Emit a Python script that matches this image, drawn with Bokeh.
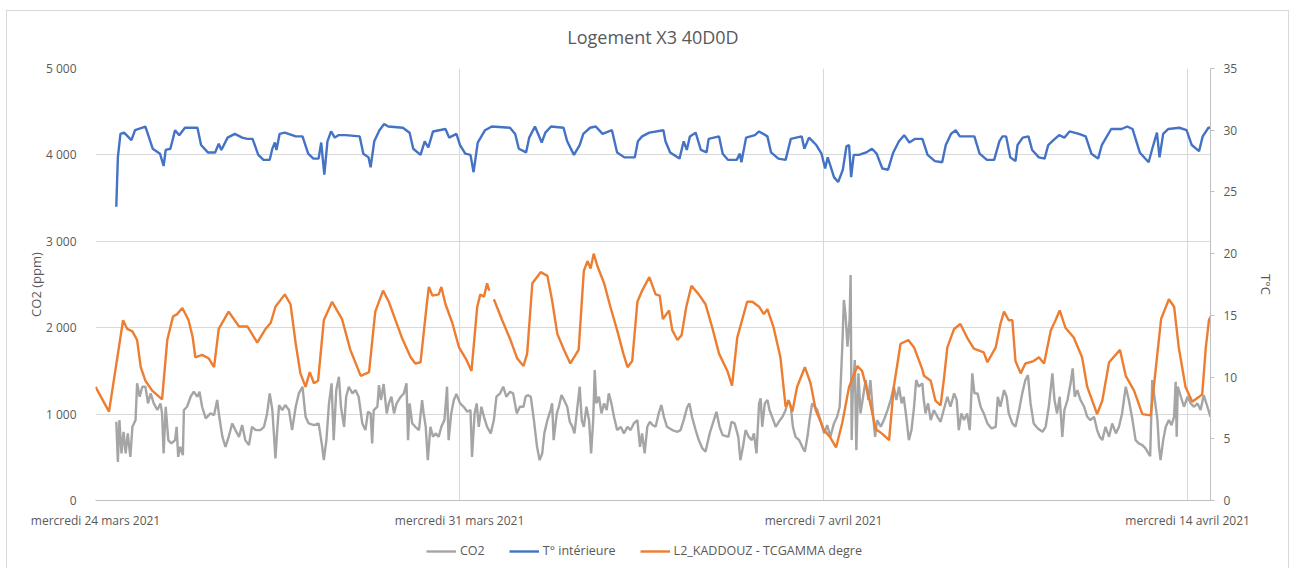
from bokeh.plotting import figure
from bokeh.models import Range1d, LinearAxis, Legend, LegendItem, FixedTicker
from bokeh.layouts import column
from bokeh.embed import file_html
from bokeh.resources import INLINE

# ---- data (days since mercredi 24 mars 2021 00:00) ----
co2_days = [0.40, 0.43, 0.46, 0.50, 0.54, 0.58, 0.62, 0.67, 0.71, 0.77, 0.80, 0.85, 0.90, 0.96, 1.01, 1.06, 1.12, 1.19, 1.25, 1.28,
            1.31, 1.35, 1.40, 1.46, 1.53, 1.56, 1.59, 1.63, 1.68, 1.70, 1.76, 1.83, 1.89, 1.96, 2.00, 2.05, 2.12, 2.21, 2.28, 2.34,
            2.38, 2.44, 2.50, 2.56, 2.63, 2.69, 2.76, 2.82, 2.88, 2.95, 3.01, 3.08, 3.17, 3.24, 3.30, 3.35, 3.40, 3.43, 3.46, 3.49,
            3.53, 3.59, 3.65, 3.72, 3.78, 3.85, 3.91, 3.98, 4.04, 4.10, 4.20, 4.29, 4.36, 4.39, 4.44, 4.49, 4.54, 4.58, 4.63, 4.68,
            4.72, 4.78, 4.82, 4.87, 4.94, 5.00, 5.06, 5.13, 5.19, 5.24, 5.29, 5.32, 5.35, 5.42, 5.45, 5.49, 5.54, 5.60, 5.64, 5.69,
            5.74, 5.79, 5.87, 5.93, 5.98, 6.01, 6.04, 6.09, 6.15, 6.22, 6.28, 6.31, 6.35, 6.39, 6.44, 6.49, 6.54, 6.60, 6.65, 6.71,
            6.76, 6.79, 6.84, 6.89, 6.94, 7.01, 7.08, 7.15, 7.21, 7.24, 7.29, 7.33, 7.37, 7.42, 7.47, 7.53, 7.60, 7.66, 7.71, 7.78,
            7.84, 7.90, 7.97, 8.03, 8.10, 8.16, 8.23, 8.27, 8.31, 8.37, 8.43, 8.49, 8.54, 8.59, 8.63, 8.69, 8.75, 8.78, 8.81, 8.87,
            8.91, 8.96, 9.01, 9.07, 9.12, 9.17, 9.21, 9.26, 9.31, 9.35, 9.39, 9.44, 9.49, 9.53, 9.57, 9.60, 9.63, 9.68, 9.73, 9.78,
            9.83, 9.87, 9.92, 9.97, 10.03, 10.10, 10.16, 10.23, 10.29, 10.35, 10.42, 10.47, 10.51, 10.56, 10.61, 10.66, 10.71, 10.77, 10.83, 10.88,
            10.93, 10.99, 11.09, 11.19, 11.25, 11.31, 11.38, 11.42, 11.47, 11.54, 11.60, 11.67, 11.73, 11.81, 11.89, 11.94, 12.00, 12.06, 12.17, 12.23,
            12.29, 12.36, 12.40, 12.45, 12.50, 12.56, 12.62, 12.66, 12.71, 12.76, 12.79, 12.82, 12.87, 12.92, 12.96, 13.01, 13.08, 13.14, 13.21, 13.27,
            13.32, 13.37, 13.41, 13.46, 13.53, 13.59, 13.64, 13.69, 13.73, 13.78, 13.83, 13.88, 13.94, 14.01, 14.07, 14.13, 14.20, 14.26, 14.31, 14.36,
            14.39, 14.42, 14.46, 14.50, 14.52, 14.54, 14.56, 14.60, 14.63, 14.67, 14.71, 14.76, 14.81, 14.86, 14.90, 14.95, 14.99, 15.03, 15.10, 15.16,
            15.23, 15.29, 15.35, 15.40, 15.45, 15.50, 15.54, 15.59, 15.64, 15.69, 15.74, 15.78, 15.83, 15.90, 15.92, 15.96, 16.01, 16.06, 16.12, 16.19,
            16.25, 16.31, 16.38, 16.44, 16.51, 16.56, 16.60, 16.65, 16.70, 16.76, 16.81, 16.86, 16.90, 16.96, 17.02, 17.08, 17.15, 17.23, 17.31, 17.35,
            17.40, 17.47, 17.52, 17.56, 17.63, 17.69, 17.76, 17.82, 17.88, 17.93, 17.98, 18.04, 18.12, 18.21, 18.27, 18.33, 18.40, 18.44, 18.49, 18.54,
            18.59, 18.63, 18.69, 18.75, 18.79, 18.83, 18.88, 18.94, 19.01, 19.07, 19.13, 19.20, 19.26, 19.31, 19.36, 19.42, 19.49, 19.55, 19.62, 19.68,
            19.74, 19.81, 19.87, 19.94, 20.00, 20.06, 20.13, 20.19, 20.28, 20.32, 20.37, 20.42, 20.45, 20.48, 20.53, 20.58, 20.64, 20.69, 20.74, 20.77,
            20.79, 20.81, 20.87, 20.93, 21.00, 21.06, 21.12, 21.19, 21.25, 21.31, 21.38, 21.44]
co2_ppm = [911, 447, 931, 545, 795, 545, 777, 505, 853, 931, 1356, 1201, 1317, 1317, 1124, 1240, 1124, 1047, 1124, 1008,
           545, 1085, 699, 661, 699, 853, 505, 621, 525, 1047, 1085, 1201, 1259, 1201, 1259, 1085, 950, 1008, 989, 1163,
           969, 737, 621, 737, 892, 815, 737, 873, 699, 641, 853, 815, 815, 853, 1008, 1240, 1047, 777, 487, 777,
           1105, 1047, 1105, 1047, 815, 1085, 1240, 1317, 969, 892, 873, 892, 621, 467, 699, 1124, 1356, 699, 1278, 1432,
           1085, 853, 1201, 1317, 1240, 1278, 1201, 892, 815, 1027, 1008, 661, 1047, 1085, 1336, 1163, 1348, 1008, 1124, 1201,
           1008, 1124, 1201, 1240, 1356, 699, 1124, 892, 853, 815, 1163, 1008, 853, 467, 853, 737, 777, 737, 853, 931,
           1317, 699, 1008, 1163, 1232, 1124, 1085, 1027, 1047, 505, 1008, 1124, 853, 1085, 969, 853, 777, 931, 1201, 1240,
           1317, 1201, 1259, 1240, 1008, 1085, 1085, 1201, 1220, 1201, 931, 621, 467, 545, 777, 931, 1047, 1124, 699, 1008,
           1085, 1220, 1163, 1085, 911, 853, 777, 1047, 1317, 931, 853, 1085, 931, 545, 931, 1510, 1124, 1201, 1008, 1124,
           1047, 1240, 1124, 969, 815, 853, 777, 853, 815, 892, 931, 621, 777, 545, 853, 911, 873, 853, 1008, 1105,
           969, 853, 815, 795, 815, 931, 1085, 1124, 969, 815, 699, 603, 564, 777, 931, 1027, 853, 757, 737, 911,
           892, 737, 467, 621, 815, 737, 699, 777, 545, 1124, 1182, 853, 1124, 1163, 1047, 969, 853, 911, 969, 1047,
           1163, 1085, 853, 737, 699, 621, 564, 737, 931, 1124, 1085, 1047, 931, 777, 873, 737, 892, 969, 1085, 1780,
           2321, 2167, 1780, 2090, 2611, 699, 1240, 1626, 583, 1472, 1008, 1201, 1394, 1163, 1394, 1008, 737, 931, 853, 931,
           1047, 1163, 1317, 1163, 1317, 1124, 1201, 969, 699, 815, 1085, 1394, 1317, 1356, 1201, 1008, 1124, 931, 1047, 969,
           911, 1047, 1201, 1085, 1240, 1163, 815, 1008, 931, 1008, 815, 1472, 1240, 1240, 1085, 1008, 892, 834, 853, 1201,
           1085, 1278, 1201, 1008, 892, 853, 1047, 1240, 1394, 1452, 1124, 892, 834, 795, 853, 1085, 1472, 1163, 1008, 1201,
           737, 1047, 1163, 1356, 1530, 1201, 1278, 1163, 1085, 969, 931, 969, 815, 737, 699, 853, 737, 892, 777, 853,
           1008, 1317, 1163, 931, 699, 661, 641, 603, 513, 1394, 1163, 931, 621, 467, 699, 853, 931, 873, 969, 1375,
           737, 1317, 1201, 1085, 1201, 1124, 1085, 1124, 1047, 1220, 1085, 969]

tint_days = [0.40, 0.43, 0.48, 0.55, 0.62, 0.69, 0.76, 0.96, 1.03, 1.10, 1.24, 1.31, 1.35, 1.44, 1.53, 1.61, 1.72, 1.96, 2.03, 2.16,
             2.30, 2.37, 2.42, 2.54, 2.68, 2.82, 2.92, 3.02, 3.13, 3.23, 3.35, 3.40, 3.45, 3.48, 3.54, 3.64, 3.85, 3.98, 4.09, 4.19,
             4.29, 4.34, 4.40, 4.46, 4.53, 4.60, 4.67, 4.81, 5.08, 5.15, 5.25, 5.29, 5.36, 5.46, 5.55, 5.63, 5.91, 6.04, 6.11, 6.25,
             6.33, 6.40, 6.49, 6.73, 6.80, 6.94, 7.01, 7.11, 7.21, 7.27, 7.35, 7.49, 7.62, 7.97, 8.07, 8.14, 8.28, 8.34, 8.45, 8.58,
             8.65, 8.76, 9.00, 9.07, 9.20, 9.31, 9.38, 9.51, 9.62, 9.75, 9.93, 10.03, 10.17, 10.37, 10.43, 10.51, 10.65, 10.92, 10.96, 11.05,
             11.23, 11.31, 11.37, 11.43, 11.54, 11.64, 11.75, 11.79, 11.99, 12.06, 12.16, 12.33, 12.39, 12.42, 12.51, 12.68, 12.76, 12.92, 12.99, 13.13,
             13.27, 13.37, 13.58, 13.63, 13.72, 13.86, 13.96, 14.03, 14.08, 14.20, 14.28, 14.37, 14.44, 14.49, 14.53, 14.58, 14.68, 14.82, 14.93, 15.02,
             15.13, 15.24, 15.34, 15.45, 15.55, 15.65, 15.76, 15.90, 16.00, 16.14, 16.28, 16.35, 16.45, 16.54, 16.62, 16.76, 16.90, 17.00, 17.14, 17.28,
             17.38, 17.44, 17.51, 17.59, 17.69, 17.73, 17.83, 17.94, 18.01, 18.14, 18.25, 18.32, 18.42, 18.53, 18.63, 18.73, 18.91, 19.04, 19.15, 19.28,
             19.35, 19.53, 19.73, 19.84, 19.94, 20.08, 20.25, 20.32, 20.41, 20.46, 20.53, 20.63, 20.84, 20.98, 21.08, 21.22, 21.29, 21.40, 21.44]
tint_c = [23.8, 27.8, 29.7, 29.8, 29.5, 29.2, 30.0, 30.3, 29.4, 28.5, 28.1, 27.1, 28.4, 28.5, 30.0, 29.6, 30.2, 30.2, 28.8, 28.2,
          28.2, 28.9, 28.4, 29.4, 29.7, 29.4, 29.3, 29.3, 28.0, 27.6, 27.6, 28.5, 29.0, 28.4, 29.7, 29.8, 29.5, 29.5, 28.1, 27.7,
          27.7, 29.0, 26.4, 29.1, 29.9, 29.4, 29.6, 29.6, 29.5, 28.1, 27.8, 27.0, 29.1, 30.0, 30.5, 30.3, 30.2, 29.8, 28.5, 28.0,
          29.1, 28.6, 29.9, 30.1, 29.4, 29.7, 28.8, 28.1, 28.0, 26.6, 29.0, 30.0, 30.3, 30.2, 29.7, 28.5, 28.2, 29.4, 30.3, 29.0,
          29.8, 30.3, 30.2, 29.1, 28.0, 28.8, 29.7, 30.2, 30.3, 29.7, 30.0, 28.2, 27.8, 27.8, 29.1, 29.5, 29.8, 30.0, 29.1, 28.2,
          27.7, 29.1, 28.4, 29.5, 29.8, 28.4, 28.2, 29.3, 29.5, 28.1, 27.6, 27.6, 28.1, 27.4, 29.4, 29.6, 29.9, 29.5, 28.2, 27.7,
          27.6, 29.3, 29.5, 28.5, 29.4, 28.8, 28.1, 26.9, 27.8, 26.2, 25.8, 26.8, 28.7, 28.8, 26.2, 28.0, 28.0, 28.2, 28.5, 28.1,
          26.9, 26.8, 28.2, 29.1, 29.6, 29.0, 29.3, 29.3, 28.0, 27.5, 27.4, 28.8, 29.7, 30.0, 29.5, 29.5, 29.5, 28.1, 27.6, 27.6,
          29.1, 29.5, 29.5, 27.8, 27.5, 28.8, 29.4, 29.5, 28.4, 27.8, 27.7, 28.8, 29.2, 29.6, 29.4, 29.9, 29.7, 29.5, 28.1, 27.7,
          28.8, 30.1, 30.1, 30.3, 30.1, 28.2, 27.4, 28.5, 29.8, 27.8, 29.7, 30.1, 30.2, 30.0, 28.8, 28.3, 29.5, 30.2, 30.2]

text_days = [0.00, 0.26, 0.53, 0.61, 0.71, 0.80, 0.87, 0.96, 1.09, 1.28, 1.38, 1.49, 1.57, 1.67, 1.79, 1.87, 1.92, 2.05, 2.18, 2.28,
             2.37, 2.56, 2.76, 2.92, 3.11, 3.27, 3.37, 3.46, 3.64, 3.75, 3.85, 3.94, 4.04, 4.12, 4.20, 4.28, 4.39, 4.55, 4.74, 4.90,
             5.10, 5.26, 5.38, 5.53, 5.64, 5.77, 5.90, 6.06, 6.15, 6.25, 6.37, 6.41, 6.48, 6.60, 6.65, 6.73, 6.86, 6.99, 7.12, 7.23,
             7.34, 7.40, 7.47, 7.53, 7.57, 7.62, 7.66, 7.82, 7.98, 8.11, 8.23, 8.30, 8.40, 8.56, 8.69, 8.78, 8.88, 9.01, 9.13, 9.29,
             9.39, 9.46, 9.52, 9.58, 9.65, 9.78, 9.90, 10.03, 10.15, 10.23, 10.32, 10.42, 10.51, 10.65, 10.77, 10.85, 10.91, 11.03, 11.09, 11.19,
             11.27, 11.36, 11.46, 11.60, 11.73, 11.86, 11.99, 12.15, 12.24, 12.34, 12.53, 12.63, 12.76, 12.85, 12.92, 13.04, 13.17, 13.27, 13.33, 13.40,
             13.49, 13.64, 13.75, 13.85, 14.01, 14.13, 14.24, 14.36, 14.49, 14.65, 14.74, 14.87, 15.00, 15.13, 15.26, 15.35, 15.48, 15.63, 15.74, 15.90,
             15.93, 16.06, 16.15, 16.25, 16.31, 16.38, 16.51, 16.63, 16.76, 16.89, 17.08, 17.15, 17.31, 17.40, 17.47, 17.56, 17.63, 17.69, 17.79, 17.88,
             18.04, 18.14, 18.24, 18.37, 18.46, 18.54, 18.65, 18.81, 18.97, 19.07, 19.26, 19.36, 19.49, 19.70, 19.81, 19.97, 20.13, 20.29, 20.35, 20.49,
             20.64, 20.74, 20.83, 20.96, 21.09, 21.22, 21.28, 21.35, 21.41, 21.44]
text_c = [9.2, 7.2, 14.6, 13.9, 13.7, 13.0, 10.8, 9.7, 8.9, 8.2, 13.0, 14.9, 15.1, 15.6, 14.6, 13.2, 11.6, 11.8, 11.5, 10.8,
          13.9, 15.3, 14.1, 14.1, 12.8, 13.9, 14.4, 15.7, 16.7, 15.9, 12.7, 10.3, 9.2, 10.4, 9.5, 9.7, 14.6, 16.1, 14.7, 12.2,
          10.1, 10.4, 15.3, 17.0, 16.1, 14.6, 13.1, 11.6, 11.1, 11.2, 15.9, 17.3, 16.6, 16.7, 17.3, 15.9, 14.4, 12.4, 11.5, 10.5,
          15.7, 16.7, 16.5, 17.6, 17.0, float("nan"), 16.3, 14.6, 13.0, 11.5, 10.9, 11.9, 17.6, 18.5, 18.2, 16.2, 13.5, 12.2, 11.1, 12.2,
          18.6, 19.4, 18.8, 20.0, 19.0, 17.6, 15.7, 13.8, 11.9, 10.8, 11.3, 16.1, 17.0, 18.1, 16.7, 16.6, 14.7, 15.4, 13.8, 13.0,
          13.4, 15.7, 17.4, 16.7, 15.9, 14.0, 11.9, 10.5, 9.3, 13.2, 16.1, 16.1, 15.7, 15.1, 15.5, 14.0, 11.6, 7.6, 8.1, 7.2,
          9.2, 10.8, 9.5, 7.3, 5.7, 5.1, 4.3, 6.3, 9.2, 10.9, 10.5, 8.4, 5.8, 5.4, 4.9, 9.2, 12.7, 13.0, 12.4, 10.6,
          10.1, 9.7, 8.1, 7.7, 9.7, 12.4, 13.9, 14.3, 13.2, 12.3, 12.0, 11.2, 12.4, 14.3, 15.3, 14.6, 14.6, 11.3, 10.3, 11.1,
          11.3, 11.6, 11.1, 13.8, 14.6, 15.4, 14.0, 13.2, 11.6, 9.2, 7.0, 8.1, 11.2, 12.2, 10.1, 8.9, 7.0, 6.9, 9.2, 14.7,
          16.3, 15.7, 12.4, 9.2, 8.0, 8.4, 8.6, 12.4, 14.6, 14.9]

date_ticks = [0, 7, 14, 21]
date_labels = ["mercredi 24 mars 2021", "mercredi 31 mars 2021", "mercredi 7 avril 2021", "mercredi 14 avril 2021"]
co2_ticks = [0, 1000, 2000, 3000, 4000, 5000]
co2_labels = ["0", "1 000", "2 000", "3 000", "4 000", "5 000"]
temp_ticks = [0, 5, 10, 15, 20, 25, 30, 35]
series_names = ["CO2", "T° intérieure", "L2_KADDOUZ - TCGAMMA degre"]
series_colors = ["#a5a5a5", "#4472c4", "#ed7d31"]

FONT = "Open Sans"
TXT = "#595959"
GRID = "#d9d9d9"
LW = 2.4

p = figure(width=1292, height=535, x_range=Range1d(0, 21.44), y_range=Range1d(0, 5000),
           output_backend="svg", toolbar_location=None,
           min_border_left=95, min_border_right=82, min_border_top=68, min_border_bottom=35)
p.extra_y_ranges = {"temp": Range1d(0, 35)}
p.outline_line_color = None
p.background_fill_color = "white"
p.border_fill_alpha = 0

p.title.text = "Logement X3 40D0D"
p.title.align = "center"
p.title.text_font = FONT
p.title.text_font_size = "18px"
p.title.text_font_style = "normal"
p.title.text_color = TXT
p.title.standoff = 39

p.line(co2_days, co2_ppm, line_color=series_colors[0], line_width=LW)
p.line(tint_days, tint_c, line_color=series_colors[1], line_width=LW, y_range_name="temp")
p.line(text_days, text_c, line_color=series_colors[2], line_width=LW, y_range_name="temp")

# left axis
ya = p.yaxis[0]
ya.ticker = FixedTicker(ticks=co2_ticks)
ya.major_label_overrides = {t: l for t, l in zip(co2_ticks, co2_labels)}
ya.axis_label = "CO2 (ppm)"
ya.axis_label_text_font_style = "normal"
ya.axis_label_text_font = FONT
ya.axis_label_text_font_size = "13px"
ya.axis_label_text_color = TXT
ya.axis_label_standoff = -2
ya.major_label_text_font = FONT
ya.major_label_text_font_size = "12px"
ya.major_label_text_color = TXT
ya.major_label_standoff = 13
ya.axis_line_color = None
ya.major_tick_line_color = None
ya.minor_tick_line_color = None

# right axis
ra = LinearAxis(y_range_name="temp", ticker=FixedTicker(ticks=temp_ticks))
ra.axis_label = "T°C"
ra.axis_label_text_font_style = "normal"
ra.axis_label_text_font = FONT
ra.axis_label_text_font_size = "13px"
ra.axis_label_text_color = TXT
ra.axis_label_standoff = 17
ra.major_label_text_font = FONT
ra.major_label_text_font_size = "12px"
ra.major_label_text_color = TXT
ra.major_label_standoff = 9
ra.axis_line_color = "#bfbfbf"
ra.major_tick_line_color = "#bfbfbf"
ra.major_tick_out = 4
ra.major_tick_in = 0
ra.minor_tick_line_color = None
p.add_layout(ra, "right")

# bottom axis
xa = p.xaxis[0]
xa.ticker = FixedTicker(ticks=date_ticks)
xa.major_label_overrides = {t: l for t, l in zip(date_ticks, date_labels)}
xa.major_label_text_font = FONT
xa.major_label_text_font_size = "12px"
xa.major_label_text_color = TXT
xa.major_label_standoff = 5
xa.axis_line_color = "#bfbfbf"
xa.major_tick_line_color = None
xa.minor_tick_line_color = None

p.xgrid.grid_line_color = GRID
p.ygrid.grid_line_color = GRID
p.xgrid.ticker = FixedTicker(ticks=date_ticks)
p.ygrid.ticker = FixedTicker(ticks=co2_ticks)

# legend strip below the chart (same series, view range kept away from the data)
lg = figure(width=1292, height=33, output_backend="svg", toolbar_location=None,
            min_border=0, x_range=Range1d(-20, -19), y_range=Range1d(-20, -19))
lg.axis.visible = False
lg.grid.visible = False
lg.outline_line_color = None
lg.background_fill_alpha = 0
lg.border_fill_alpha = 0
lg.extra_y_ranges = {"temp": Range1d(-20, -19)}
r1 = lg.line(co2_days, co2_ppm, line_color=series_colors[0], line_width=LW)
r2 = lg.line(tint_days, tint_c, line_color=series_colors[1], line_width=LW, y_range_name="temp")
r3 = lg.line(text_days, text_c, line_color=series_colors[2], line_width=LW, y_range_name="temp")
legend = Legend(items=[LegendItem(label=n, renderers=[r]) for n, r in zip(series_names, [r1, r2, r3])],
                orientation="horizontal", location=(331, 9))
legend.label_text_font = FONT
legend.label_text_font_size = "12.5px"
legend.label_text_color = TXT
legend.border_line_color = None
legend.background_fill_alpha = 0
legend.glyph_width = 30
legend.glyph_height = 16
legend.label_height = 16
legend.spacing = 24
legend.label_standoff = 4
legend.padding = 0
legend.margin = 0
lg.add_layout(legend)

layout = column(p, lg, spacing=0, styles={
    "background-color": "white",
    "background-image": "linear-gradient(#d9d9d9,#d9d9d9), linear-gradient(#d9d9d9,#d9d9d9), linear-gradient(#d9d9d9,#d9d9d9)",
    "background-position": "6px 10px, 6px 10px, 1288px 10px",
    "background-size": "1px 600px, 1283px 1px, 1px 600px",
    "background-repeat": "no-repeat",
})

open("out.html", "w").write(file_html(layout, INLINE))
